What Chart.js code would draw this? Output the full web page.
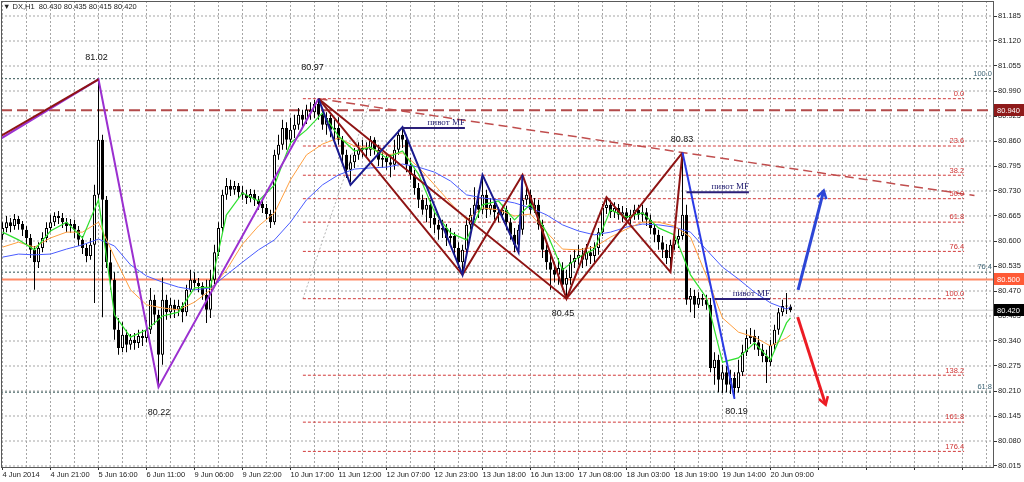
<!DOCTYPE html>
<html>
<head>
<meta charset="utf-8">
<title>DX,H1</title>
<script src="https://cdn.jsdelivr.net/npm/chart.js@4.4.1/dist/chart.umd.min.js"></script>
<style>
  html, body { margin: 0; padding: 0; background: #fff; }
  #wrap { width: 1024px; height: 482px; }
</style>
</head>
<body>
<div id="wrap"><canvas id="dx" width="1024" height="482"></canvas></div>
<script>
// ── Data (DX H1, 4 Jun – 20 Jun 2014), one entry per hourly bar ──

var opens = [
  80.616, 80.634, 80.649, 80.639, 80.657, 80.644, 80.629, 80.608, 80.577, 80.545,
  80.582, 80.608, 80.634, 80.649, 80.665, 80.660, 80.649, 80.639, 80.644, 80.629,
  80.603, 80.582, 80.561, 80.590, 80.720, 80.863, 80.707, 80.545, 80.499, 80.369,
  80.322, 80.356, 80.330, 80.343, 80.335, 80.353, 80.348, 80.369, 80.447, 80.408,
  80.304, 80.447, 80.415, 80.434, 80.421, 80.431, 80.415, 80.473, 80.499, 80.491,
  80.483, 80.460, 80.421, 80.499, 80.571, 80.634, 80.720, 80.743, 80.733, 80.743,
  80.727, 80.720, 80.712, 80.722, 80.707, 80.696, 80.686, 80.670, 80.649, 80.824,
  80.850, 80.894, 80.863, 80.889, 80.902, 80.928, 80.915, 80.941, 80.935, 80.956,
  80.928, 80.902, 80.920, 80.889, 80.894, 80.863, 80.824, 80.785, 80.805, 80.824,
  80.837, 80.842, 80.837, 80.863, 80.837, 80.811, 80.816, 80.805, 80.798, 80.837,
  80.876, 80.863, 80.798, 80.772, 80.738, 80.707, 80.681, 80.694, 80.660, 80.642,
  80.629, 80.634, 80.608, 80.613, 80.582, 80.545, 80.577, 80.642, 80.668, 80.694,
  80.681, 80.720, 80.681, 80.694, 80.675, 80.668, 80.681, 80.649, 80.616, 80.590,
  80.629, 80.707, 80.720, 80.681, 80.694, 80.642, 80.577, 80.545, 80.525, 80.512,
  80.530, 80.486, 80.504, 80.545, 80.556, 80.564, 80.551, 80.571, 80.561, 80.582,
  80.623, 80.686, 80.694, 80.675, 80.686, 80.668, 80.675, 80.660, 80.668, 80.681,
  80.668, 80.675, 80.655, 80.634, 80.616, 80.597, 80.577, 80.556, 80.590, 80.603,
  80.613, 80.668, 80.447, 80.457, 80.434, 80.452, 80.447, 80.434, 80.270, 80.291,
  80.239, 80.259, 80.226, 80.244, 80.218, 80.259, 80.311, 80.348, 80.353, 80.337,
  80.317, 80.301, 80.285, 80.330, 80.369, 80.415, 80.431, 80.430
];
var highs = [
  80.649, 80.665, 80.660, 80.670, 80.665, 80.652, 80.639, 80.618, 80.587, 80.597,
  80.623, 80.649, 80.668, 80.675, 80.678, 80.673, 80.660, 80.657, 80.655, 80.639,
  80.613, 80.592, 80.608, 80.746, 81.020, 80.876, 80.717, 80.577, 80.519, 80.400,
  80.389, 80.369, 80.358, 80.361, 80.369, 80.369, 80.395, 80.478, 80.460, 80.421,
  80.506, 80.460, 80.452, 80.447, 80.447, 80.441, 80.486, 80.525, 80.519, 80.504,
  80.493, 80.499, 80.525, 80.590, 80.649, 80.733, 80.764, 80.759, 80.756, 80.751,
  80.743, 80.733, 80.735, 80.733, 80.717, 80.707, 80.696, 80.681, 80.837, 80.876,
  80.915, 80.909, 80.920, 80.928, 80.946, 80.941, 80.954, 80.961, 80.967, 80.970,
  80.946, 80.935, 80.928, 80.915, 80.922, 80.873, 80.837, 80.824, 80.842, 80.857,
  80.863, 80.857, 80.873, 80.870, 80.850, 80.831, 80.829, 80.824, 80.863, 80.889,
  80.896, 80.876, 80.816, 80.785, 80.751, 80.720, 80.712, 80.707, 80.675, 80.655,
  80.655, 80.644, 80.634, 80.623, 80.597, 80.590, 80.660, 80.686, 80.740, 80.712,
  80.772, 80.733, 80.712, 80.707, 80.688, 80.694, 80.691, 80.660, 80.634, 80.642,
  80.772, 80.738, 80.733, 80.712, 80.707, 80.655, 80.590, 80.564, 80.545, 80.556,
  80.545, 80.525, 80.564, 80.577, 80.590, 80.582, 80.592, 80.587, 80.597, 80.634,
  80.696, 80.714, 80.707, 80.701, 80.696, 80.691, 80.686, 80.681, 80.694, 80.694,
  80.694, 80.686, 80.668, 80.644, 80.629, 80.613, 80.592, 80.603, 80.618, 80.634,
  80.830, 80.694, 80.478, 80.473, 80.467, 80.462, 80.460, 80.452, 80.311, 80.304,
  80.278, 80.275, 80.265, 80.259, 80.291, 80.330, 80.369, 80.374, 80.369, 80.353,
  80.332, 80.317, 80.343, 80.382, 80.426, 80.447, 80.465, 80.435
];
var lows = [
  80.603, 80.623, 80.623, 80.629, 80.629, 80.613, 80.592, 80.556, 80.473, 80.530,
  80.571, 80.597, 80.623, 80.639, 80.644, 80.634, 80.623, 80.621, 80.608, 80.587,
  80.566, 80.545, 80.551, 80.439, 80.707, 80.402, 80.530, 80.473, 80.343, 80.304,
  80.311, 80.311, 80.317, 80.317, 80.322, 80.327, 80.337, 80.358, 80.382, 80.220,
  80.278, 80.395, 80.400, 80.400, 80.405, 80.389, 80.405, 80.467, 80.473, 80.467,
  80.447, 80.387, 80.400, 80.488, 80.561, 80.623, 80.707, 80.717, 80.720, 80.712,
  80.707, 80.696, 80.701, 80.691, 80.681, 80.673, 80.655, 80.634, 80.642, 80.811,
  80.837, 80.837, 80.850, 80.868, 80.889, 80.894, 80.904, 80.915, 80.920, 80.915,
  80.889, 80.876, 80.870, 80.863, 80.850, 80.798, 80.764, 80.753, 80.790, 80.811,
  80.818, 80.816, 80.821, 80.824, 80.795, 80.790, 80.785, 80.766, 80.785, 80.824,
  80.842, 80.779, 80.759, 80.720, 80.686, 80.668, 80.649, 80.634, 80.621, 80.603,
  80.608, 80.587, 80.592, 80.564, 80.530, 80.512, 80.566, 80.629, 80.655, 80.660,
  80.670, 80.660, 80.668, 80.655, 80.649, 80.655, 80.629, 80.603, 80.571, 80.571,
  80.616, 80.694, 80.668, 80.673, 80.629, 80.556, 80.525, 80.473, 80.493, 80.486,
  80.473, 80.450, 80.486, 80.530, 80.538, 80.530, 80.535, 80.540, 80.545, 80.564,
  80.613, 80.670, 80.660, 80.660, 80.655, 80.649, 80.642, 80.644, 80.655, 80.655,
  80.649, 80.639, 80.618, 80.597, 80.577, 80.556, 80.540, 80.519, 80.577, 80.582,
  80.603, 80.434, 80.415, 80.400, 80.426, 80.431, 80.421, 80.259, 80.226, 80.207,
  80.205, 80.207, 80.202, 80.190, 80.207, 80.249, 80.301, 80.332, 80.317, 80.301,
  80.285, 80.231, 80.275, 80.317, 80.356, 80.405, 80.410, 80.415
];
var closes = [
  80.634, 80.649, 80.639, 80.657, 80.644, 80.629, 80.608, 80.577, 80.545, 80.582,
  80.608, 80.634, 80.649, 80.665, 80.660, 80.649, 80.639, 80.644, 80.629, 80.603,
  80.582, 80.561, 80.590, 80.720, 80.863, 80.707, 80.545, 80.499, 80.369, 80.322,
  80.356, 80.330, 80.343, 80.335, 80.353, 80.348, 80.369, 80.447, 80.408, 80.304,
  80.447, 80.415, 80.434, 80.421, 80.431, 80.415, 80.473, 80.499, 80.491, 80.483,
  80.460, 80.421, 80.499, 80.571, 80.634, 80.720, 80.743, 80.733, 80.743, 80.727,
  80.720, 80.712, 80.722, 80.707, 80.696, 80.686, 80.670, 80.649, 80.824, 80.850,
  80.894, 80.863, 80.889, 80.902, 80.928, 80.915, 80.941, 80.935, 80.956, 80.928,
  80.902, 80.920, 80.889, 80.894, 80.863, 80.824, 80.785, 80.805, 80.824, 80.837,
  80.842, 80.837, 80.863, 80.837, 80.811, 80.816, 80.805, 80.798, 80.837, 80.876,
  80.863, 80.798, 80.772, 80.738, 80.707, 80.681, 80.694, 80.660, 80.642, 80.629,
  80.634, 80.608, 80.613, 80.582, 80.545, 80.577, 80.642, 80.668, 80.694, 80.681,
  80.720, 80.681, 80.694, 80.675, 80.668, 80.681, 80.649, 80.616, 80.590, 80.629,
  80.707, 80.720, 80.681, 80.694, 80.642, 80.577, 80.545, 80.525, 80.512, 80.530,
  80.486, 80.504, 80.545, 80.556, 80.564, 80.551, 80.571, 80.561, 80.582, 80.623,
  80.686, 80.694, 80.675, 80.686, 80.668, 80.675, 80.660, 80.668, 80.681, 80.668,
  80.675, 80.655, 80.634, 80.616, 80.597, 80.577, 80.556, 80.590, 80.603, 80.613,
  80.668, 80.447, 80.457, 80.434, 80.452, 80.447, 80.434, 80.270, 80.291, 80.239,
  80.259, 80.226, 80.244, 80.218, 80.259, 80.311, 80.348, 80.353, 80.337, 80.317,
  80.301, 80.285, 80.330, 80.369, 80.415, 80.431, 80.430, 80.420
];

// moving averages, every 4 bars
var maBars = [
  0, 4, 8, 12, 16, 20, 24, 28, 32, 36, 40, 44, 48, 52, 56, 60, 64, 68, 72, 76,
  80, 84, 88, 92, 96, 100, 104, 108, 112, 116, 120, 124, 128, 132, 136, 140,
  144, 148, 152, 156, 160, 164, 168, 172, 176, 180, 184, 188, 192, 196, 197
];
var maFast = [
  80.623, 80.603, 80.577, 80.626, 80.649, 80.608, 80.707, 80.408, 80.350, 80.369,
  80.405, 80.415, 80.478, 80.480, 80.668, 80.725, 80.704, 80.746, 80.855, 80.889,
  80.933, 80.873, 80.834, 80.844, 80.816, 80.834, 80.774, 80.675, 80.621, 80.603,
  80.694, 80.704, 80.655, 80.696, 80.623, 80.525, 80.558, 80.579, 80.681, 80.662,
  80.673, 80.634, 80.616, 80.512, 80.452, 80.285, 80.296, 80.335, 80.291, 80.387, 80.400
];
var maMid = [
  80.584, 80.597, 80.584, 80.608, 80.623, 80.623, 80.649, 80.558, 80.473, 80.434,
  80.426, 80.421, 80.441, 80.473, 80.525, 80.592, 80.639, 80.673, 80.759, 80.824,
  80.852, 80.868, 80.847, 80.842, 80.824, 80.829, 80.792, 80.746, 80.699, 80.655,
  80.686, 80.681, 80.665, 80.670, 80.623, 80.579, 80.577, 80.584, 80.610, 80.631,
  80.649, 80.649, 80.639, 80.610, 80.509, 80.400, 80.363, 80.350, 80.327, 80.348, 80.356
];
var maSlow = [
  80.558, 80.566, 80.564, 80.566, 80.579, 80.590, 80.605, 80.587, 80.538, 80.509,
  80.493, 80.480, 80.473, 80.478, 80.512, 80.545, 80.577, 80.603, 80.649, 80.707,
  80.746, 80.772, 80.787, 80.790, 80.792, 80.800, 80.792, 80.779, 80.756, 80.720,
  80.712, 80.707, 80.699, 80.686, 80.668, 80.642, 80.626, 80.616, 80.623, 80.636,
  80.644, 80.642, 80.636, 80.623, 80.577, 80.532, 80.501, 80.467, 80.439, 80.423, 80.428
];

// axis labels and grid positions
var xLabels = [
  '4 Jun 2014', '4 Jun 21:00', '5 Jun 16:00', '6 Jun 11:00', '9 Jun 06:00',
  '9 Jun 22:00', '10 Jun 17:00', '11 Jun 12:00', '12 Jun 07:00', '12 Jun 23:00',
  '13 Jun 18:00', '16 Jun 13:00', '17 Jun 08:00', '18 Jun 03:00', '18 Jun 19:00',
  '19 Jun 14:00', '20 Jun 09:00'
];
var yTicks = [
  80.015, 80.080, 80.145, 80.210, 80.275, 80.340, 80.405, 80.470, 80.535, 80.600,
  80.665, 80.730, 80.795, 80.860, 80.925, 80.990, 81.055, 81.120, 81.185
];
var gridBars = [];
for (var g = 0; g <= 246; g += 6) gridBars.push(g);

// zigzags (bar index, price)
var purpleBars = [-0.6, 24, 39, 79];
var purpleVals = [80.865, 81.02, 80.22, 80.97];
var redLeftBars = [-0.6, 24];
var redLeftVals = [80.872, 81.02];
var redSmallBars = [79, 115, 130, 141, 151, 167, 170];
var redSmallVals = [80.97, 80.512, 80.772, 80.45, 80.714, 80.519, 80.83];
var redBigBars = [79, 141, 170];
var redBigVals = [80.97, 80.45, 80.83];
var navyBars = [79, 87, 100, 115, 120, 129, 130];
var navyVals = [80.97, 80.746, 80.896, 80.512, 80.772, 80.571, 80.772];
var blueBars = [170, 183];
var blueVals = [80.83, 80.19];

// trend line and fibonacci tools
var trendBars = [79, 243];
var trendVals = [80.97, 80.718];
var fibDiagBars = [75.1, 92.1];
var fibDiagVals = [80.45, 80.97];
var fibRedFrom = 75.1;
var fibRedTo = 240.4;
var fibRedVals = [80.97, 80.847, 80.771, 80.71, 80.649, 80.573, 80.45, 80.251, 80.129, 80.053];
var fibRedText = ['0.0', '23.6', '38.2', '50.0', '61.8', '76.4', '100.0', '138.2', '161.8', '176.4'];
var fibTealVals = [81.022, 80.519, 80.207];
var fibTealText = ['100.0', '76.4', '61.8'];

// horizontal levels
var dashedLevel = 80.94;
var solidLevel = 80.50;

// "пивот MF" pivots
var pivotFrom = [100, 171, 178];
var pivotTo = [115.6, 186.6, 191.9];
var pivotVals = [80.894, 80.727, 80.449];
var pivotText = 'пивот MF';

// forecast arrows
var arrowFromBars = [198.9, 198.8];
var arrowFromVals = [80.473, 80.402];
var arrowToBars = [205.3, 205.8];
var arrowToVals = [80.731, 80.174];

// price notes
var noteText = ['81.02', '80.97', '80.83', '80.45', '80.22', '80.19'];
var noteBars = [23.5, 77.5, 169.9, 140.1, 39.1, 183.5];
var noteVals = [81.076, 81.052, 80.864, 80.412, 80.154, 80.156];

// ── Helpers ──

var X_MIN = -0.375, X_MAX = 247.625;
var Y_MIN = 80.0124, Y_MAX = 81.224;
var FONT = '"Liberation Sans", Arial, sans-serif';
var GRID = '#a6a6a6';

function pts(xsArr, ysArr) {
  return xsArr.map(function(x, i) { return { x: x, y: ysArr[i] }; });
}

function lineSet(data, color, width, dash, order) {
  return {
    type: 'line', data: data, borderColor: color, borderWidth: width,
    borderDash: dash || [], pointRadius: 0, fill: false, tension: 0,
    order: order, clip: 0
  };
}

function levelSet(from, to, v, color, width, dash, order) {
  return lineSet(pts([from, to], [v, v]), color, width, dash, order);
}

// ── Datasets ──

var datasets = [];

// dotted chart grid, as plain line datasets on the scales
gridBars.forEach(function(b) {
  datasets.push(lineSet(pts([b, b], [Y_MIN, Y_MAX]), GRID, 1, [2, 2], 70));
});
yTicks.forEach(function(v) {
  datasets.push(levelSet(X_MIN, X_MAX, v, GRID, 1, [2, 2], 70));
});

fibTealVals.forEach(function(v) {
  datasets.push(levelSet(X_MIN, X_MAX, v, '#2f5050', 1, [2, 2], 60));
});
fibRedVals.forEach(function(v) {
  datasets.push(levelSet(fibRedFrom, fibRedTo, v, '#d23a3a', 1, [3, 2], 60));
});
datasets.push(lineSet(pts(fibDiagBars, fibDiagVals), '#b4b4b4', 1, [2, 2], 60));
datasets.push(levelSet(X_MIN, X_MAX, closes[closes.length - 1], '#cccccc', 1, [], 59));
datasets.push(levelSet(X_MIN, X_MAX, dashedLevel, '#b24a4a', 2, [11, 5], 58));
datasets.push(levelSet(X_MIN, X_MAX, solidLevel, '#ff8a66', 2, [], 58));

datasets.push({
  label: 'wick',
  data: lows.map(function(l, i) { return { x: i, y: [l, highs[i]] }; }),
  backgroundColor: '#000', borderWidth: 0, barThickness: 1,
  grouped: false, inflateAmount: 0, order: 50
});
datasets.push({
  label: 'body',
  data: opens.map(function(o, i) { return { x: i, y: [o, closes[i]] }; }),
  backgroundColor: function(ctx) {
    var i = ctx.dataIndex;
    return closes[i] >= opens[i] ? '#ffffff' : '#000000';
  },
  borderColor: '#000', borderWidth: 1, borderSkipped: false,
  barThickness: 3, minBarLength: 1, grouped: false, inflateAmount: 0, order: 49
});

datasets.push(lineSet(pts(maBars, maSlow), '#4a5cff', 1, [], 42));
datasets.push(lineSet(pts(maBars, maMid), '#ff9f40', 1, [], 41));
datasets.push(lineSet(pts(maBars, maFast), '#2fe02f', 1.2, [], 40));

datasets.push(lineSet(pts(trendBars, trendVals), '#c04e4e', 1.5, [9, 5], 30));
datasets.push(lineSet(pts(purpleBars, purpleVals), '#9b30d0', 2, [], 22));
datasets.push(lineSet(pts(redLeftBars, redLeftVals), '#8e1414', 2, [], 21));
datasets.push(lineSet(pts(redBigBars, redBigVals), '#8e1414', 2, [], 21));
datasets.push(lineSet(pts(redSmallBars, redSmallVals), '#8e1414', 2, [], 21));
datasets.push(lineSet(pts(navyBars, navyVals), '#1a1a8e', 2, [], 19));
datasets.push(lineSet(pts(blueBars, blueVals), '#2b3be6', 2, [], 18));
pivotVals.forEach(function(v, k) {
  datasets.push(levelSet(pivotFrom[k], pivotTo[k], v, '#2a1f78', 2, [], 17));
});
datasets.push(lineSet(pts([arrowFromBars[0], arrowToBars[0]], [arrowFromVals[0], arrowToVals[0]]), '#2d46d6', 3, [], 10));
datasets.push(lineSet(pts([arrowFromBars[1], arrowToBars[1]], [arrowFromVals[1], arrowToVals[1]]), '#ec1c24', 3, [], 10));

// ── Overlay: labels, price boxes, arrow heads ──

var overlay = {
  id: 'overlay',
  afterDraw: function(chart) {
    var c = chart.ctx, xs = chart.scales.x, ys = chart.scales.y, a = chart.chartArea;
    c.save();

    // left and top frame
    c.strokeStyle = '#5a5a5a';
    c.lineWidth = 1;
    c.beginPath();
    c.moveTo(a.left + 0.5, a.top); c.lineTo(a.left + 0.5, a.bottom);
    c.moveTo(a.left, a.top + 0.5); c.lineTo(a.right, a.top + 0.5);
    c.stroke();

    // fibonacci level labels
    c.font = '7.5px ' + FONT;
    c.textAlign = 'right';
    c.textBaseline = 'bottom';
    c.fillStyle = '#d03535';
    fibRedVals.forEach(function(v, i) {
      c.fillText(fibRedText[i], xs.getPixelForValue(fibRedTo), ys.getPixelForValue(v) - 1);
    });
    c.fillStyle = '#3d6475';
    fibTealVals.forEach(function(v, i) {
      c.fillText(fibTealText[i], a.right - 1, ys.getPixelForValue(v) - 1);
    });

    // pivot captions
    c.font = '9px "Liberation Serif", serif';
    c.fillStyle = '#1e1a6e';
    pivotVals.forEach(function(v, k) {
      c.fillText(pivotText, xs.getPixelForValue(pivotTo[k]), ys.getPixelForValue(v) - 1);
    });

    // price notes
    c.font = '9px ' + FONT;
    c.textAlign = 'center';
    c.textBaseline = 'middle';
    c.fillStyle = '#111';
    noteText.forEach(function(t, i) {
      c.fillText(t, xs.getPixelForValue(noteBars[i]), ys.getPixelForValue(noteVals[i]));
    });

    // arrow heads
    var arrowColors = ['#2d46d6', '#ec1c24'];
    arrowToBars.forEach(function(b, k) {
      var x2 = xs.getPixelForValue(b), y2 = ys.getPixelForValue(arrowToVals[k]);
      var x1 = xs.getPixelForValue(arrowFromBars[k]), y1 = ys.getPixelForValue(arrowFromVals[k]);
      var ang = Math.atan2(y2 - y1, x2 - x1);
      c.strokeStyle = arrowColors[k];
      c.lineWidth = 2.5;
      c.beginPath();
      c.moveTo(x2 + 9 * Math.cos(ang + Math.PI - 0.55), y2 + 9 * Math.sin(ang + Math.PI - 0.55));
      c.lineTo(x2, y2);
      c.lineTo(x2 + 9 * Math.cos(ang + Math.PI + 0.55), y2 + 9 * Math.sin(ang + Math.PI + 0.55));
      c.stroke();
    });

    // price boxes on the axis
    var boxes = [
      { v: dashedLevel, bg: '#8e1a1a' },
      { v: solidLevel, bg: '#ff5a36' },
      { v: closes[closes.length - 1], bg: '#000000' }
    ];
    c.font = '7.5px ' + FONT;
    c.textAlign = 'left';
    boxes.forEach(function(b) {
      var y = Math.round(ys.getPixelForValue(b.v));
      c.fillStyle = b.bg;
      c.fillRect(a.right + 1, y - 6, 30, 12);
      c.fillStyle = '#fff';
      c.fillText(b.v.toFixed(3), a.right + 4, y + 0.5);
    });

    // header
    var last = closes.length - 1;
    c.fillStyle = '#222';
    c.textAlign = 'left';
    c.font = '7.5px ' + FONT;
    c.fillText('\u25BC DX,H1  ' + [opens[last], highs[last], lows[last], closes[last]]
      .map(function(v) { return v.toFixed(3); }).join(' '), 3, 7);

    c.restore();
  }
};

// ── Chart ──

Chart.defaults.font.family = FONT;

new Chart(document.getElementById('dx'), {
  type: 'bar',
  data: { datasets: datasets },
  plugins: [overlay],
  options: {
    responsive: false,
    animation: false,
    events: [],
    layout: { padding: { left: 1, top: 1, right: 0, bottom: 0 } },
    plugins: { legend: { display: false }, tooltip: { enabled: false } },
    scales: {
      x: {
        type: 'linear', min: X_MIN, max: X_MAX, offset: false,
        afterBuildTicks: function(s) {
          s.ticks = gridBars.map(function(v) { return { value: v }; });
        },
        afterFit: function(s) { s.height = 15; s.paddingLeft = 0; s.paddingRight = 0; },
        grid: {
          offset: false, drawOnChartArea: false, tickLength: 3,
          tickColor: function(ctx) {
            return ctx.tick && ctx.tick.value % 12 === 0 ? '#333' : 'rgba(0,0,0,0)';
          }
        },
        border: { display: true, color: '#5a5a5a', width: 1 },
        ticks: {
          autoSkip: false, maxRotation: 0, align: 'start', padding: 0,
          color: '#1a1a1a', font: { size: 7.5 },
          callback: function(v) { return v % 12 === 0 ? (xLabels[v / 12] || '') : ''; }
        }
      },
      y: {
        position: 'right', min: Y_MIN, max: Y_MAX,
        afterBuildTicks: function(s) {
          s.ticks = yTicks.map(function(v) { return { value: v }; });
        },
        afterFit: function(s) { s.width = 31; s.paddingTop = 0; s.paddingBottom = 0; },
        grid: { drawOnChartArea: false, tickLength: 4, tickColor: '#333' },
        border: { display: true, color: '#5a5a5a', width: 1 },
        ticks: {
          padding: 1, color: '#1a1a1a', font: { size: 7.5 },
          callback: function(v) { return Number(v).toFixed(3); }
        }
      }
    }
  }
});
</script>
</body>
</html>
